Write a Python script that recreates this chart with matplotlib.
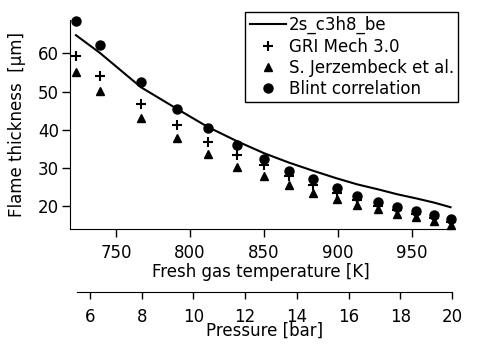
import matplotlib
matplotlib.use("Agg")
import matplotlib.pyplot as plt

# fresh gas temperature [K] of each operating point
temp = [723, 739, 767, 791, 812, 832, 850, 867, 883, 899, 913, 927, 940, 953, 965, 976]

# flame thickness [um]
mech_2s = [64.8, 60.2, 51.1, 45.5, 40.7, 36.9, 33.8, 31.3, 29.2, 27.2, 25.6, 24.3, 23.0, 21.9, 20.8, 19.6]
gri = [59.3, 54.0, 46.8, 41.1, 36.7, 33.2, 30.7, 27.9, 25.4, 23.3, 21.5, 20.0, 18.9, 17.8, 16.7, 15.6]
jerz = [55.2, 50.2, 43.1, 37.8, 33.6, 30.2, 27.8, 25.4, 23.4, 21.8, 20.3, 19.1, 17.7, 17.0, 15.9, 14.9]
blint = [68.6, 62.1, 52.6, 45.5, 40.3, 35.9, 32.2, 29.2, 26.9, 24.6, 22.6, 21.05, 19.6, 18.6, 17.6, 16.5]

p_ticks = [6, 8, 10, 12, 14, 16, 18, 20]
t_ticks = [750, 800, 850, 900, 950]
y_ticks = [20, 30, 40, 50, 60]

plt.rcParams['font.family'] = ['DejaVu Sans']
plt.rcParams['font.size'] = 12

fig = plt.figure(figsize=(5, 3.5), dpi=100)
ax = fig.add_axes([0.14, 0.346, 0.764, 0.597])

ax.plot(temp, mech_2s, color='black', lw=1.5, label='2s_c3h8_be')
ax.plot(temp, gri, ls='none', marker='+', ms=7, mew=1.5, color='black',
        label='GRI Mech 3.0', clip_on=False)
ax.plot(temp, jerz, ls='none', marker='^', ms=6, color='black',
        label='S. Jerzembeck et al.', clip_on=False)
ax.plot(temp, blint, ls='none', marker='o', ms=6.5, color='black',
        label='Blint correlation', clip_on=False)

ax.set_xlim(719, 977)
ax.set_ylim(13.9, 68.8)
ax.set_xticks(t_ticks)
ax.set_yticks(y_ticks)
ax.spines['top'].set_visible(False)
ax.spines['right'].set_visible(False)
ax.tick_params(direction='out', length=6, width=1)
ax.tick_params(axis='x', pad=5)
ax.tick_params(axis='y', pad=2)
ax.set_xlabel('Fresh gas temperature [K]', labelpad=0.5)
ax.set_ylabel('Flame thickness  [µm]', labelpad=8.5)

leg = ax.legend(loc='upper right', bbox_to_anchor=(0.916, 0.966),
                bbox_transform=fig.transFigure, borderaxespad=0,
                fancybox=False, edgecolor='black', framealpha=1,
                handlelength=2.2, handletextpad=0.15, labelspacing=0.2,
                borderpad=0.25, numpoints=1)
leg.get_frame().set_linewidth(1)

# pressure scale drawn as a separate axis below
axp = fig.add_axes([0.154, 0.166, 0.75, 0.001])
axp.set_xlim(5.5, 20)
axp.set_xticks(p_ticks)
axp.set_yticks([])
for s in ['top', 'left', 'right']:
    axp.spines[s].set_visible(False)
axp.patch.set_visible(False)
axp.tick_params(direction='out', length=5, width=1, pad=6.5)
axp.set_xlabel('Pressure [bar]', labelpad=-3)

fig.savefig('out.png', dpi=100)
